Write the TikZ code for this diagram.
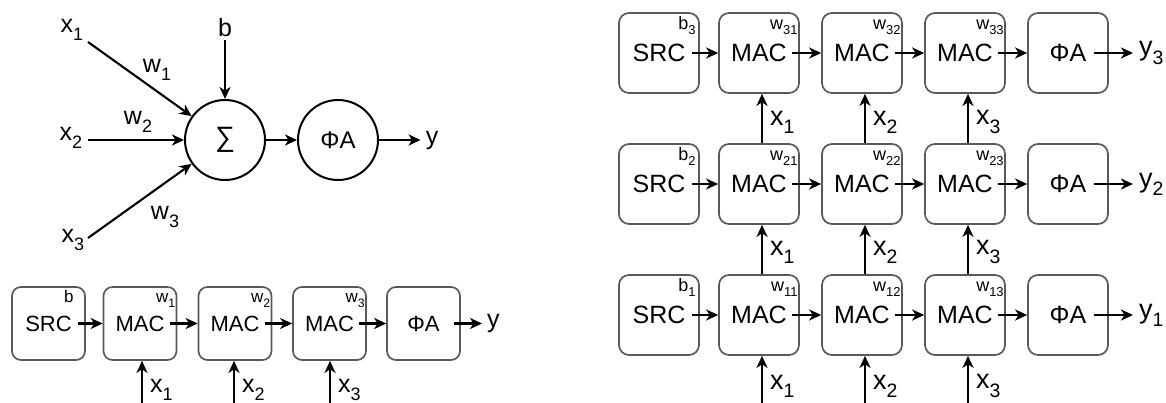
\documentclass[tikz,border=0pt]{standalone}
\usepackage{fontspec}
\setmainfont{Liberation Sans}
\usetikzlibrary{arrows.meta}
\newcommand\sbx[1]{\raisebox{-0.3em}{\scalebox{0.72}{#1}}}
\newcommand\fs[1]{\fontsize{#1}{#1}\selectfont}
\begin{document}
\begin{tikzpicture}[x=1pt,y=-1pt,
  arr/.style={-{Stealth[length=12pt,width=11pt,inset=3.5pt]},line width=2.1pt},
  boxL/.style={draw=black!65,line width=1.7pt,rounded corners=9pt,minimum width=73pt,minimum height=73pt,inner sep=0pt},
  boxR/.style={boxL,minimum width=80pt,minimum height=80pt,rounded corners=10pt},
  txt/.style={inner sep=0pt},
  lblL/.style={txt,font=\fs{22}},
  lblR/.style={txt,font=\fs{25}},
  cornL/.style={txt,font=\fs{17},anchor=base east},
  cornR/.style={txt,font=\fs{18},anchor=base east},
  inL/.style={txt,font=\fs{25}},
  inR/.style={txt,font=\fs{27}},
  circ/.style={draw,circle,line width=2pt,minimum size=80pt,inner sep=0pt,font=\fs{24}},
]
\useasboundingbox (0,0) rectangle (1166,403);

% ---------- neuron ----------
\node[circ,font=\fs{28}] (sig) at (225,140) {∑};
\node[circ] (phi) at (338,140) {ΦA};
\node[inL] (nx1) at (72,30) {x\sbx{1}};
\node[inL] (nx2) at (71,138) {x\sbx{2}};
\node[inL] (nx3) at (73,240) {x\sbx{3}};
\node[inL] (nw1) at (157,70) {w\sbx{1}};
\node[inL] (nw2) at (138,122) {w\sbx{2}};
\node[inL] (nw3) at (165,217) {w\sbx{3}};
\node[inL,inner sep=3pt] (nb) at (225,28) {b};
\node[inL] (ny) at (432,140) {y};
\coordinate (x1e) at (88,42);
\coordinate (x2e) at (88,140);
\coordinate (x3e) at (88,238);
\draw[arr] (x1e) -- (sig);
\draw[arr] (x2e) -- (sig);
\draw[arr] (x3e) -- (sig);
\draw[arr] (nb.south) -- (sig.north);
\draw[arr] (sig) -- (phi);
\draw[arr] (phi) -- ([xshift=-5pt]ny.west);

% ---------- single row ----------
\node[boxL] (ls) at (48.5,323.5) {};
\node[lblL] (lst) at (ls) {SRC};
\node[cornL] (lsb) at ([xshift=-12pt,yshift=-16pt]ls.north east) {b};
\node[boxL] (lm1) at (140,323.5) {};
\node[lblL] (lmt1) at (lm1) {MAC};
\node[cornL] (lw1) at ([xshift=-2pt,yshift=-16pt]lm1.north east) {w\sbx{1}};
\node[boxL] (lm2) at (235,323.5) {};
\node[lblL] (lmt2) at (lm2) {MAC};
\node[cornL] (lw2) at ([xshift=-2pt,yshift=-16pt]lm2.north east) {w\sbx{2}};
\node[boxL] (lm3) at (329.5,323.5) {};
\node[lblL] (lmt3) at (lm3) {MAC};
\node[cornL] (lw3) at ([xshift=-2pt,yshift=-16pt]lm3.north east) {w\sbx{3}};
\node[boxL] (lf) at (423.5,323.5) {};
\node[lblL] (lft) at (lf) {ΦA};
\node[inL,anchor=west] (ly) at (487,323.5) {y};
\draw[arr] ([xshift=6pt]lst.east) -- (lm1.west);
\draw[arr] ([xshift=5pt]lmt1.east) -- (lm2.west);
\draw[arr] ([xshift=5pt]lmt2.east) -- (lm3.west);
\draw[arr] ([xshift=5pt]lmt3.east) -- (lf.west);
\draw[arr] ([xshift=14pt]lft.east) -- ([xshift=-5pt]ly.west);
\coordinate (lb1) at (142,403);
\coordinate (lb2) at (234,403);
\coordinate (lb3) at (330,403);
\draw[arr] (lb1) -- (lb1 |- lm1.south);
\draw[arr] (lb2) -- (lb2 |- lm2.south);
\draw[arr] (lb3) -- (lb3 |- lm3.south);
\node[inL,anchor=west] (lx1) at (150,390) {x\sbx{1}};
\node[inL,anchor=west] (lx2) at (242,390) {x\sbx{2}};
\node[inL,anchor=west] (lx3) at (338,390) {x\sbx{3}};

% ---------- grid ----------
\foreach \r/\yy in {1/315,2/184,3/53}{
  \node[boxR] (S\r) at (659,\yy) {};
  \node[lblR] (ST\r) at (S\r) {SRC};
  \node[cornR] (SB\r) at ([xshift=-4pt,yshift=-17pt]S\r.north east) {b\sbx{\r}};
  \foreach \c/\xx in {1/759,2/862,3/965}{
    \node[boxR] (M\r\c) at (\xx,\yy) {};
    \node[lblR] (MT\r\c) at (M\r\c) {MAC};
    \node[cornR] (W\r\c) at ([xshift=-2pt,yshift=-17pt]M\r\c.north east) {w\sbx{\r\c}};
  }
  \node[boxR] (F\r) at (1068,\yy) {};
  \node[lblR] (FT\r) at (F\r) {ΦA};
  \node[inR,anchor=west] (Y\r) at (1139,\yy) {y\sbx{\r}};
  \draw[arr] ([xshift=6pt]ST\r.east) -- (M\r1.west);
  \draw[arr] ([xshift=5pt]MT\r1.east) -- (M\r2.west);
  \draw[arr] ([xshift=5pt]MT\r2.east) -- (M\r3.west);
  \draw[arr] ([xshift=5pt]MT\r3.east) -- (F\r.west);
  \draw[arr] ([xshift=7pt]FT\r.east) -- ([xshift=-6pt]Y\r.west);
}
\foreach \c/\xx in {1/759,2/862,3/965}{
  \coordinate (G\c) at (\xx+3,403);
  \draw[arr] (G\c) -- (G\c |- M1\c.south);
  \draw[arr] ([xshift=3pt]M1\c.north) -- ([xshift=3pt]M2\c.south);
  \draw[arr] ([xshift=3pt]M2\c.north) -- ([xshift=3pt]M3\c.south);
  \node[inR,anchor=west] (XA\c) at (\xx+11,386) {x\sbx{\c}};
  \node[inR,anchor=west] (XB\c) at (\xx+11,252) {x\sbx{\c}};
  \node[inR,anchor=west] (XC\c) at (\xx+11,122) {x\sbx{\c}};
}
\end{tikzpicture}
\end{document}
